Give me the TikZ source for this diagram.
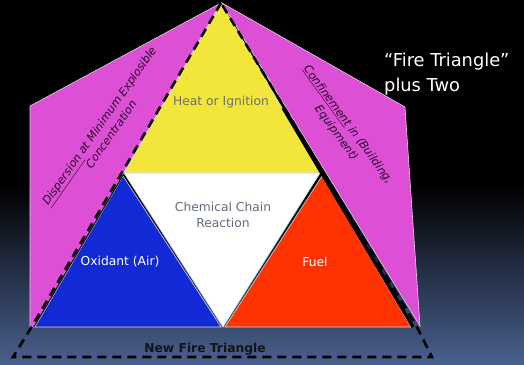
\documentclass[tikz,border=0pt]{standalone}
\usepackage{fontspec}
\setmainfont{DejaVu Sans}
\definecolor{pinkc}{RGB}{221,79,213}
\definecolor{yel}{RGB}{242,230,58}
\definecolor{blu}{RGB}{18,42,214}
\definecolor{redc}{RGB}{255,51,0}
\definecolor{bgmid}{RGB}{30,38,58}
\definecolor{bgbot}{RGB}{74,96,142}
\definecolor{graytxt}{RGB}{110,110,110}
\definecolor{chemtxt}{RGB}{100,108,125}
\definecolor{pinktxt}{RGB}{35,10,40}
\definecolor{edgec}{RGB}{215,215,220}
\tikzset{
  piece/.style={draw=edgec, line width=0.6pt},
  lbl/.style={font=\fontsize{12.3}{16.5}\selectfont, inner sep=0pt, align=center},
  pinklbl/.style={font=\fontsize{11.2}{14.5}\selectfont\itshape, text=pinktxt, inner sep=0pt, align=center},
  newline/.style={line width=2.6pt, dash pattern=on 9pt off 6pt, line join=miter}
}
\begin{document}
\begin{tikzpicture}[x=1pt,y=-1pt]
\useasboundingbox (0,0) rectangle (524,364);
\begin{scope}[y=1pt]
  \fill[black] (0,0) rectangle (524,-364);
  \shade[top color=black, bottom color=bgbot] (0,-185) rectangle (524,-364.5);
\end{scope}
% vertices
\coordinate (A) at (221,3);
\coordinate (BL) at (35,327);
\coordinate (BR) at (411,327);
\coordinate (ML) at (124,173);
\coordinate (MR) at (320,173);
\coordinate (MB) at (223,327);
% pink side pieces
\coordinate (PL1) at (30,106);
\coordinate (PL2) at (30,327);
\coordinate (PR0) at (222,3);
\coordinate (PR1) at (405,107);
\coordinate (PR2) at (420,326);
\filldraw[piece, fill=pinkc] (A) -- (PL1) -- (PL2) -- (BL) -- cycle;
\filldraw[piece, fill=pinkc] (PR0) -- (PR1) -- (PR2) -- cycle;
% inner triangles
\filldraw[piece, fill=yel] (A) -- (MR) -- (ML) -- cycle;
\filldraw[piece, fill=white] (ML) -- (MR) -- (MB) -- cycle;
\filldraw[piece, fill=blu] (123,176) -- (BL) -- (221,327) -- cycle;
\filldraw[piece, fill=redc] (322,176) -- (225,327) -- (BR) -- cycle;
% solid edge lines
\coordinate (S1) at (283,108);
\coordinate (S2) at (413,327);
\draw[line width=3.2pt] (S1) -- (S2);
\coordinate (S3) at (123,175);
\coordinate (S4) at (34,327);
\draw[line width=1pt] (S3) -- (S4);
% new fire triangle (dashed)
\coordinate (D1) at (31,328);
\coordinate (D2) at (13,357);
\coordinate (D3) at (432,357);
\coordinate (D4) at (417,327);
\draw[newline] (A) -- (D1) -- (D2) -- (D3) -- (D4) -- cycle;
% labels
\node[lbl, text=graytxt] (heat) at (221,102) {Heat or Ignition};
\node[lbl, text=chemtxt] (chem) at (223,215) {Chemical Chain\\Reaction};
\node[lbl, text=white] (ox) at (120,262) {Oxidant (Air)};
\node[lbl, text=white] (fuel) at (315,262) {Fuel};
\node[lbl, text=black!92, font=\fontsize{12.3}{15}\selectfont\bfseries] (newft) at (205,349) {New Fire Triangle};
\node[pinklbl, rotate=55] (disp) at (105,130) {\underline{Dispersion} at Minimum Explosible\\Concentration};
\node[pinklbl, rotate=-54] (conf) at (342,129) {\underline{Confinement} in (Building,\\Equipment)};
\node[text=white, font=\fontsize{17.8}{25}\selectfont, align=left, anchor=north west, inner sep=0pt] (plus) at (384,52.5) {“Fire Triangle”\\plus Two};
\end{tikzpicture}
\end{document}
